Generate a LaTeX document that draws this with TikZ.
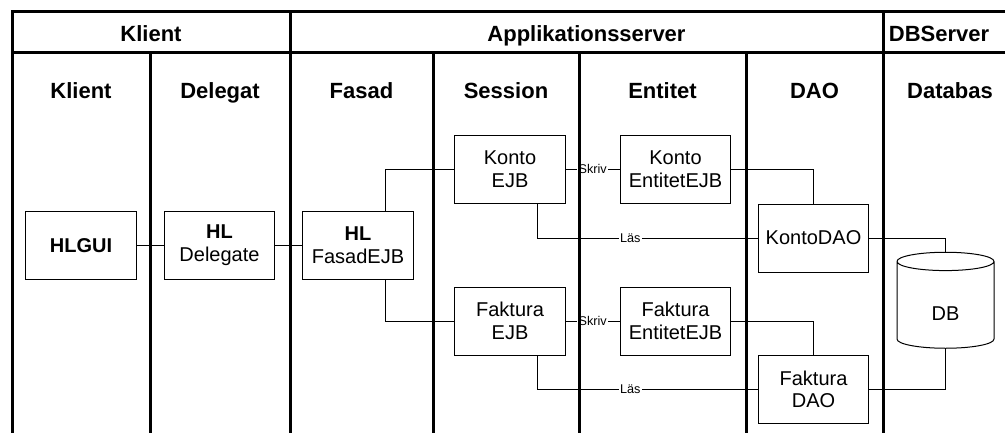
\documentclass[tikz,border=0pt]{standalone}
\usepackage{fontspec}
\setmainfont{Liberation Sans}
\usetikzlibrary{shapes.geometric, calc}
\tikzstyle{box} = [rectangle,
minimum width=83pt,
minimum height=51pt,
text centered, align=center,
draw=black, line width=0.75pt,
font=\fontsize{15}{17}\selectfont]
\tikzstyle{store} = [cylinder, shape border rotate=90, aspect=0.5,
minimum width=72.75pt, minimum height=72pt,
text height=20pt, text depth=0pt,
draw=black, line width=0.75pt,
font=\fontsize{15}{17}\selectfont]
\tikzstyle{head} = [anchor=base, font=\fontsize{16.5}{19}\selectfont\bfseries]
\tikzstyle{lane} = [line width=2.25pt]
\tikzstyle{link} = [line width=0.75pt]
\tikzstyle{lbl} = [fill=white, inner sep=1pt, font=\fontsize{9.5}{10}\selectfont]

\begin{document}
\begin{tikzpicture}[x=0.75pt, y=-0.75pt]
  \useasboundingbox (0,0) rectangle (1005,432);

  % rubriker
  \node (hklient) [head] at (151,41) {Klient};
  \node (happ) [head] at (586.5,41) {Applikationsserver};
  \node (hdb) [head] at (939,41) {DBServer};
  \node (cklient) [head] at (81,98.5) {Klient};
  \node (cdelegat) [head] at (220,98.5) {Delegat};
  \node (cfasad) [head] at (361.5,98.5) {Fasad};
  \node (csession) [head] at (506,98.5) {Session};
  \node (centitet) [head] at (662.5,98.5) {Entitet};
  \node (cdao) [head] at (814.5,98.5) {DAO};
  \node (cdatabas) [head] at (950,98.5) {Databas};

  % komponenter
  \node (gui) [box] at (81,245.5) {\textbf{HLGUI}};
  \node (delegate) [box] at (219.5,245.5) {\textbf{HL}\\Delegate};
  \node (fasad) [box] at (358,245.5) {\textbf{HL}\\FasadEJB};
  \node (kejb) [box] at (510,169) {Konto\\EJB};
  \node (kent) [box] at (675.5,169) {Konto\\EntitetEJB};
  \node (kdao) [box] at (813.5,238) {KontoDAO};
  \node (fejb) [box] at (510,321) {Faktura\\EJB};
  \node (fent) [box] at (675.5,321) {Faktura\\EntitetEJB};
  \node (fdao) [box] at (813.5,389.5) {Faktura\\DAO};
  \node (db) [store] at (945.5,307) {DB};

  \draw [link] (gui) -- (delegate);
  \draw [link] (delegate) -- (fasad);
  \draw [link] ($(fasad.north)!.5!(fasad.north east)$) |- (kejb.west);
  \draw [link] ($(fasad.south)!.5!(fasad.south east)$) |- (fejb.west);
  \draw [link] (kejb) -- node [lbl] {Skriv} (kent);
  \draw [link] (fejb) -- node [lbl] {Skriv} (fent);
  \draw [link] (kent.east) -| (kdao.north);
  \draw [link] (fent.east) -| (fdao.north);
  \draw [link] ($(kejb.south)!.5!(kejb.south east)$) |- node [lbl, pos=0.71] {Läs} (kdao.west);
  \draw [link] ($(fejb.south)!.5!(fejb.south east)$) |- node [lbl, pos=0.71] {Läs} (fdao.west);
  \draw [link] (kdao.east) -| (db.north);
  \draw [link] (fdao.east) -| (db.south);

  % banor
  \draw [lane] (12,440) -- (12,11) -- (1015,11);
  \draw [lane] (12,52) -- (1015,52);
  \draw [lane] (290,11) -- (290,440);
  \draw [lane] (883,11) -- (883,440);
  \foreach \x in {150,433,579,746}
    \draw [lane] (\x,52) -- (\x,440);

\end{tikzpicture}
\end{document}
